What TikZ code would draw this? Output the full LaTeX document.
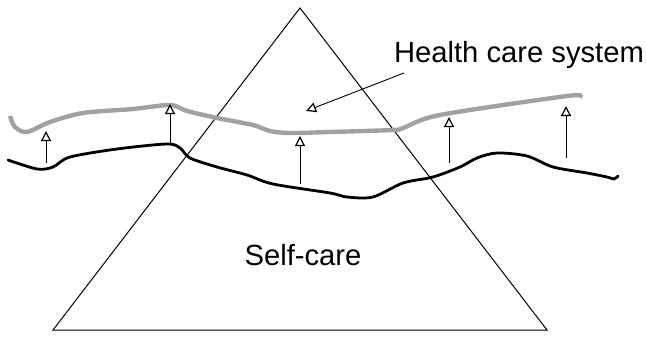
\documentclass[tikz,border=0pt]{standalone}
\usepackage{fontspec}
\setmainfont{Liberation Sans}
\usetikzlibrary{arrows.meta}
\begin{document}
\begin{tikzpicture}[x=1pt,y=-1pt,
  lbl/.style={font=\fontsize{29.2}{31}\selectfont, inner sep=0pt, anchor=base},
  pyramid/.style={draw=black, line width=1pt, line join=miter},
  sysline/.style={draw=black!37, line width=4.4pt, line cap=butt, line join=round},
  baseline/.style={draw=black, line width=2.8pt, line cap=round, line join=round},
  lift/.style={draw=black, line width=0.9pt, -{Triangle[open, length=10pt, width=10pt, line width=1.2pt]}}]
  \useasboundingbox (0,0) rectangle (647,337);

  % pyramid
  \coordinate (apex) at (300,8);
  \coordinate (bl) at (53,330);
  \coordinate (br) at (547,330);
  \draw[pyramid] (bl) -- (apex) -- (br) -- cycle;

  % labels
  \node[lbl] (hcs) at (519,63) {Health care system};
  \node[lbl] (self) at (303,265) {Self-care};

  % health care system level (grey)
  \draw[sysline] plot[smooth, tension=0.5] coordinates {
    (10,116) (15,127) (27,132) (50,122) (83,113) (133,109) (170,105)
    (187,111) (217,118) (253,125) (270,131) (290,133) (330,132)
    (393,130) (403,128) (440,115) (567,96) (580,97)};

  % self-care level (black)
  \draw[baseline] plot[smooth, tension=0.5] coordinates {
    (8,160) (37,169) (53,167) (70,157) (117,149) (167,144) (180,148)
    (190,158) (217,167) (247,175) (273,184) (330,193) (347,197)
    (373,197) (403,183) (433,177) (460,167) (477,158) (497,153)
    (527,156) (553,167) (587,173) (607,177) (614,179) (618,176)};

  % upward arrows
  \coordinate (a1s) at (46,163);  \coordinate (a1e) at (46,131);
  \coordinate (a2s) at (170,143); \coordinate (a2e) at (170,104);
  \coordinate (a3s) at (300,184); \coordinate (a3e) at (300,136);
  \coordinate (a4s) at (449,163); \coordinate (a4e) at (449,117);
  \coordinate (a5s) at (566,158); \coordinate (a5e) at (566,106);
  \draw[lift] (a1s) -- (a1e);
  \draw[lift] (a2s) -- (a2e);
  \draw[lift] (a3s) -- (a3e);
  \draw[lift] (a4s) -- (a4e);
  \draw[lift] (a5s) -- (a5e);

  % pointer from the label
  \coordinate (ptr) at (404,73);
  \coordinate (ptrend) at (306,111);
  \draw[lift] (ptr) -- (ptrend);
\end{tikzpicture}
\end{document}
